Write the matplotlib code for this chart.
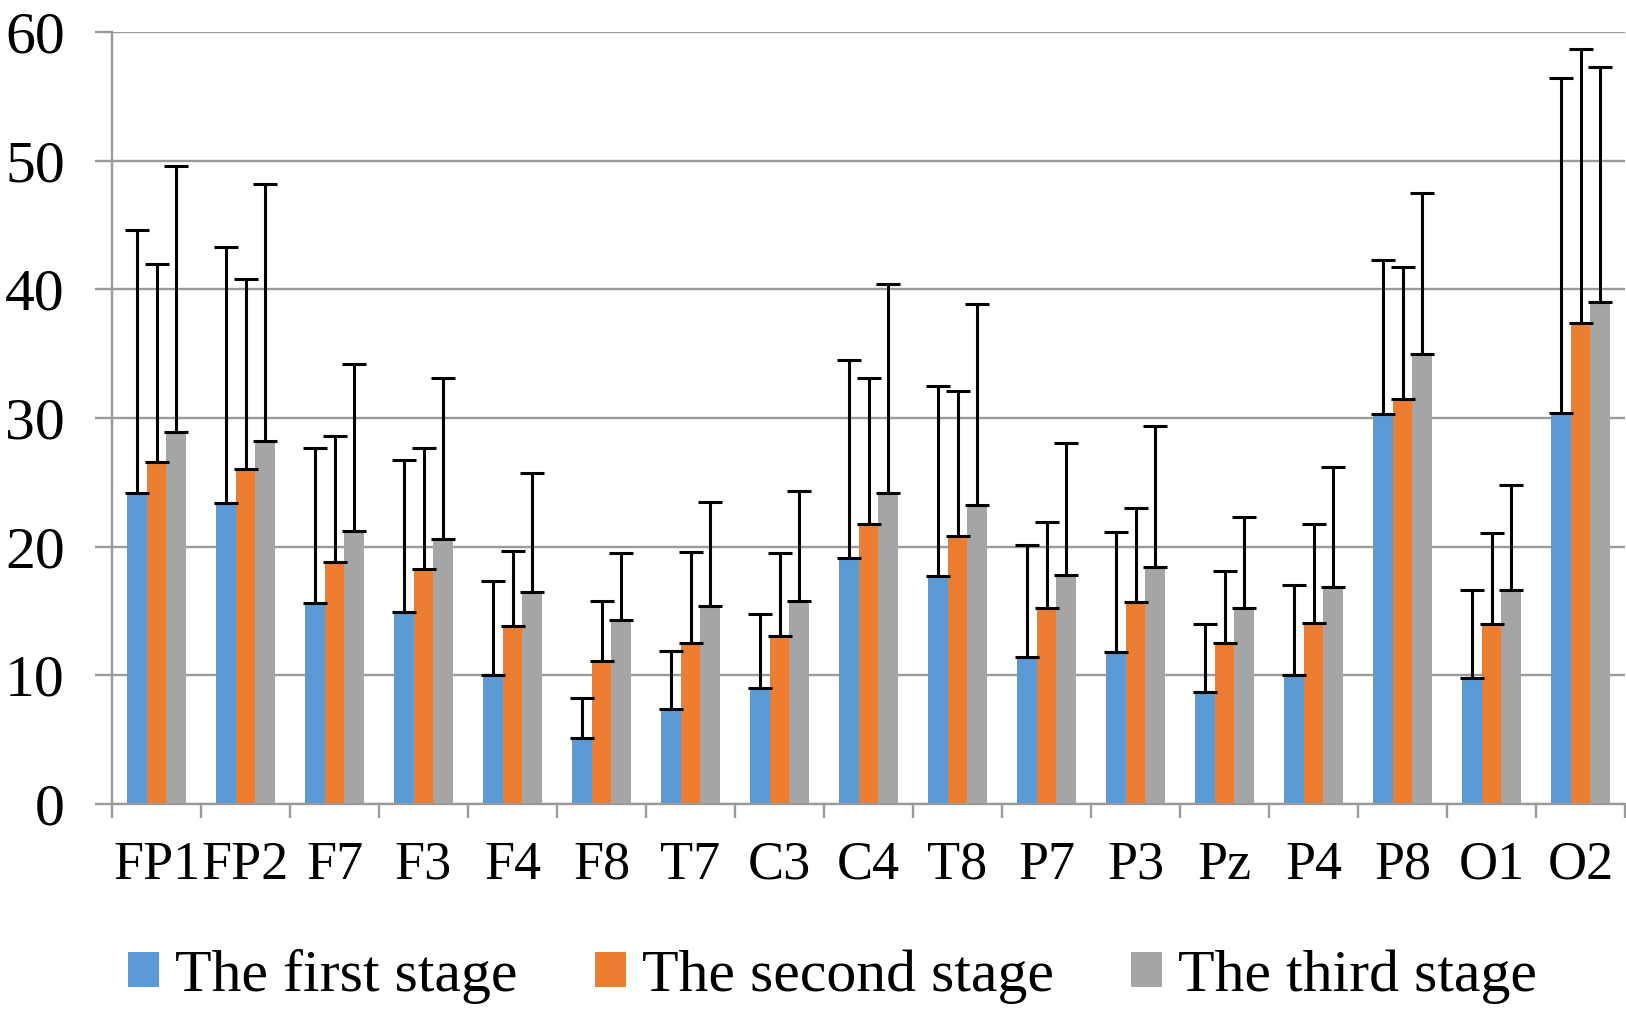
import numpy as np
import matplotlib.pyplot as plt
from matplotlib.ticker import FixedLocator

# channel names and the mean / upper error values of each stage
channels = ["FP1", "FP2", "F7", "F3", "F4", "F8", "T7", "C3", "C4",
            "T8", "P7", "P3", "Pz", "P4", "P8", "O1", "O2"]

stage1 = [24.2, 23.4, 15.6, 14.9, 10.0, 5.1, 7.4, 9.0, 19.1,
          17.7, 11.4, 11.8, 8.7, 10.0, 30.3, 9.8, 30.4]
stage1_top = [44.6, 43.3, 27.7, 26.7, 17.3, 8.25, 11.9, 14.8, 34.5,
              32.5, 20.1, 21.15, 14.0, 17.0, 42.3, 16.6, 56.4]

stage2 = [26.6, 26.0, 18.8, 18.25, 13.8, 11.15, 12.5, 13.05, 21.8,
          20.8, 15.2, 15.7, 12.5, 14.1, 31.5, 14.0, 37.4]
stage2_top = [42.0, 40.8, 28.6, 27.7, 19.7, 15.8, 19.6, 19.5, 33.1,
              32.1, 21.9, 23.0, 18.1, 21.8, 41.7, 21.1, 58.7]

stage3 = [28.9, 28.2, 21.2, 20.6, 16.5, 14.3, 15.4, 15.8, 24.2,
          23.25, 17.8, 18.4, 15.2, 16.9, 35.0, 16.6, 39.0]
stage3_top = [49.6, 48.2, 34.2, 33.1, 25.7, 19.5, 23.5, 24.3, 40.4,
              38.85, 28.05, 29.4, 22.3, 26.2, 47.5, 24.8, 57.3]

labels = ["The first stage", "The second stage", "The third stage"]
colors = ["#5B9BD5", "#ED7D31", "#A5A5A5"]

GRID = "#9a9a9a"
BAR_W = 0.219

plt.rcParams['font.family'] = ['Liberation Serif', 'DejaVu Serif']

fig = plt.figure(figsize=(16.26, 10.13), dpi=100)
ax = fig.add_axes([0.0689, 0.2063, 0.9305, 0.7621])

x = np.arange(len(channels))
series = [(stage1, stage1_top), (stage2, stage2_top), (stage3, stage3_top)]
handles = []
for i, (vals, tops) in enumerate(series):
    vals = np.array(vals)
    upper = np.array(tops) - vals
    pos = x + (i - 1) * BAR_W
    b = ax.bar(pos, vals, BAR_W, color=colors[i], label=labels[i], zorder=2)
    ax.errorbar(pos, vals, yerr=[np.zeros_like(upper), upper], fmt='none',
                ecolor='black', elinewidth=2.2, capsize=8.6, capthick=2.2,
                zorder=3)
    handles.append(b)

ax.set_xlim(-0.5, len(channels) - 0.5)
ax.set_ylim(0, 60)
ax.set_yticks(np.arange(0, 61, 10))
ax.yaxis.grid(True, color=GRID, linewidth=1.7, zorder=0)
ax.set_axisbelow(True)

for side in ["top", "right"]:
    ax.spines[side].set_visible(False)
for side in ["left", "bottom"]:
    ax.spines[side].set_color(GRID)
    ax.spines[side].set_linewidth(1.7)

ax.set_xticks(x)
ax.set_xticklabels(channels)
ax.xaxis.set_minor_locator(FixedLocator(np.arange(-0.5, len(channels), 1.0)))
ax.tick_params(axis='x', which='major', length=0, pad=26, labelsize=39)
ax.tick_params(axis='x', which='minor', length=10, width=1.7, color=GRID)
ax.tick_params(axis='y', length=12, width=1.7, color=GRID, pad=22,
               labelsize=43)

fig.legend(handles=handles, labels=labels, loc='center',
           bbox_to_anchor=(0.512, 0.036), ncol=3, frameon=False,
           fontsize=43, handlelength=0.52, handleheight=0.53,
           handletextpad=0.26, columnspacing=1.3, borderpad=0)

fig.savefig("out.png", dpi=100)
